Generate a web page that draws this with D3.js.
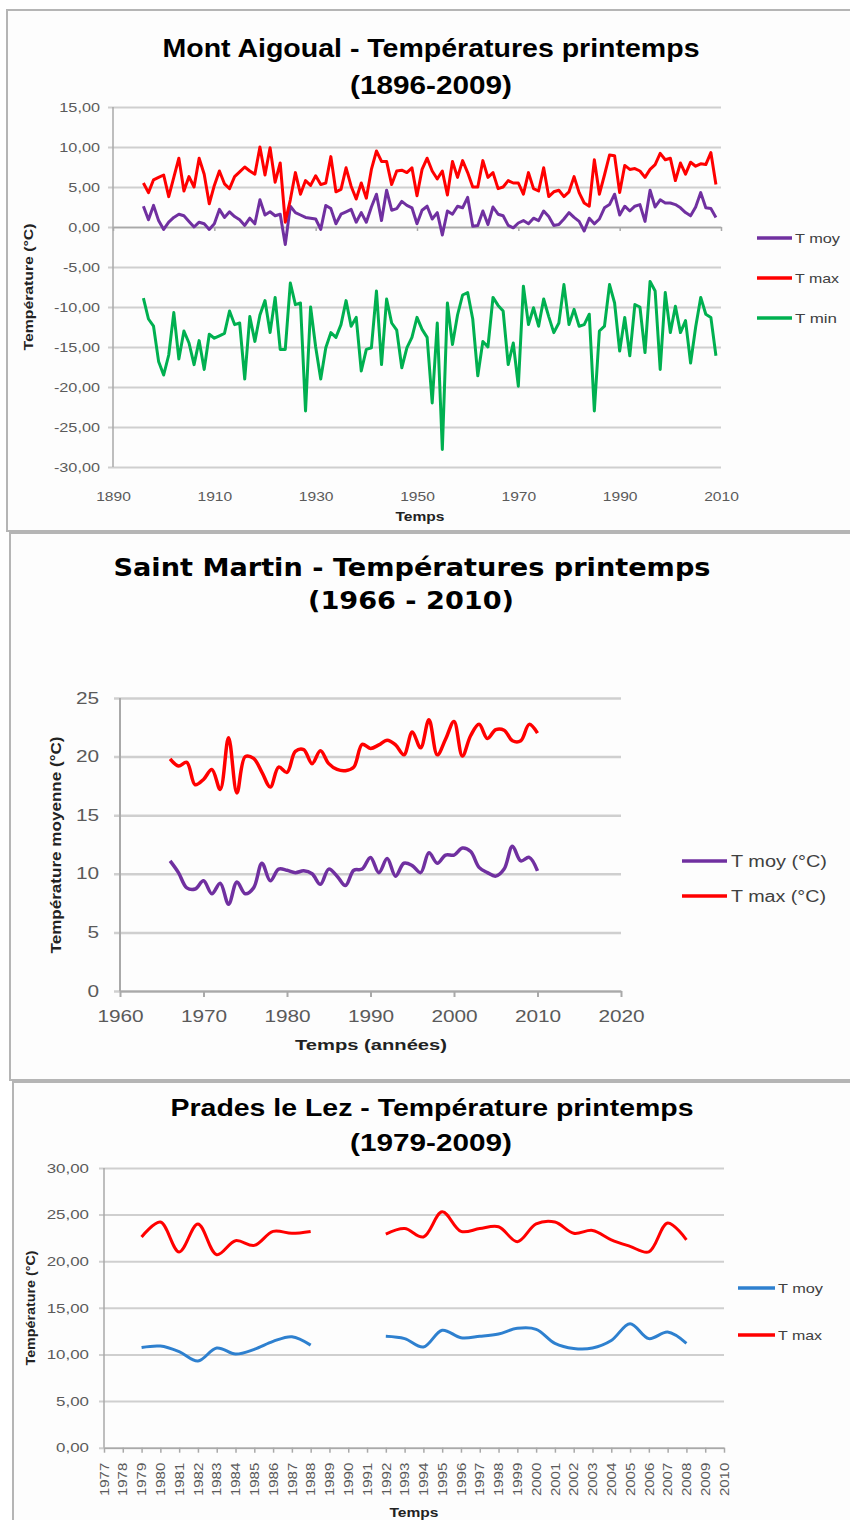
<!DOCTYPE html>
<html>
<head>
<meta charset="utf-8">
<script src="https://cdn.jsdelivr.net/npm/d3@7"></script>
<style>
  body { margin: 0; background: #fff; }
  svg { display: block; }
</style>
</head>
<body>
<svg id="chart" width="850" height="1520"></svg>
<script>
// ---- Mont Aigoual (1896-2009), one value per year ----
const aigoualStart = 1896;
const aigoualTmoy = [2.6, 0.9, 2.7, 0.8, -0.3, 0.6, 1.2, 1.6, 1.4, 0.7, 0.0, 0.6, 0.4, -0.3, 0.4, 2.2, 1.2, 1.9, 1.3, 0.9,
  0.2, 1.1, 0.4, 3.4, 1.5, 1.9, 1.4, 1.6, -2.2, 2.6, 1.8, 1.5, 1.2, 1.1, 1.0, -0.3, 2.7, 2.3, 0.4, 1.6,
  1.9, 2.2, 0.6, 1.8, 0.6, 2.5, 4.1, 0.8, 4.6, 2.1, 2.3, 3.2, 2.7, 2.4, 0.4, 2.1, 2.6, 1.0, 1.8, -1.0,
  2.0, 1.6, 2.6, 2.4, 3.7, 0.1, 0.2, 2.0, 0.3, 2.5, 1.6, 1.4, 0.2, -0.1, 0.5, 0.8, 0.4, 1.1, 0.8, 2.0,
  1.3, 0.2, 0.3, 1.0, 1.8, 1.2, 0.7, -0.5, 1.1, 0.4, 1.0, 2.4, 2.8, 4.1, 1.5, 2.6, 2.0, 2.6, 2.8, 0.7,
  4.6, 2.5, 3.4, 3.0, 3.0, 2.8, 2.4, 1.8, 1.4, 2.5, 4.3, 2.4, 2.3, 1.2];
const aigoualTmax = [5.5, 4.3, 5.9, 6.2, 6.5, 3.8, 6.2, 8.6, 4.5, 6.3, 5.0, 8.6, 6.6, 2.9, 5.2, 7.0, 5.4, 4.8, 6.3, 6.9,
  7.5, 7.0, 6.6, 10.0, 6.5, 9.9, 5.6, 8.0, 0.6, 3.4, 6.8, 4.1, 5.8, 5.2, 6.4, 5.3, 5.5, 8.8, 4.4, 4.7,
  7.4, 5.1, 3.5, 5.5, 3.6, 7.2, 9.5, 8.2, 8.2, 5.3, 7.0, 7.1, 6.8, 7.4, 3.9, 7.2, 8.6, 7.0, 6.0, 7.0,
  4.0, 8.2, 6.2, 8.3, 6.8, 5.0, 5.0, 8.3, 6.2, 6.8, 4.8, 5.0, 5.8, 5.5, 5.5, 4.1, 6.8, 4.8, 4.5, 7.4,
  3.8, 4.4, 4.6, 3.8, 4.4, 6.3, 4.3, 3.0, 2.6, 8.4, 4.1, 6.5, 9.0, 8.9, 4.3, 7.7, 7.2, 7.3, 7.0, 6.2,
  7.2, 7.8, 9.2, 8.4, 8.6, 5.8, 8.0, 6.6, 8.1, 7.6, 7.9, 7.8, 9.3, 5.3];
const aigoualTmin = [-8.9, -11.5, -12.4, -16.8, -18.5, -16.0, -10.7, -16.5, -13.0, -14.5, -17.2, -14.2, -17.8, -13.4, -13.9, -13.6, -13.3, -10.5, -12.2, -12.0,
  -19.0, -11.2, -14.3, -11.0, -9.2, -13.2, -8.8, -15.3, -15.3, -7.0, -9.7, -9.5, -23.0, -10.0, -15.0, -19.0, -15.1, -13.2, -13.8, -12.2,
  -9.2, -12.4, -11.3, -18.0, -15.3, -15.1, -8.0, -17.2, -9.0, -12.0, -12.9, -17.6, -15.1, -13.8, -11.3, -12.8, -13.8, -22.0, -12.0, -27.8,
  -9.5, -14.7, -11.0, -8.5, -8.2, -11.5, -18.6, -14.3, -15.0, -8.8, -9.8, -10.5, -17.2, -14.5, -19.9, -7.4, -12.2, -10.1, -12.4, -9.0,
  -11.2, -13.2, -12.0, -7.2, -12.2, -10.3, -12.4, -12.2, -10.9, -23.0, -13.0, -12.4, -7.2, -9.5, -15.5, -11.3, -16.1, -9.7, -10.0, -15.7,
  -6.8, -8.0, -17.8, -8.2, -13.2, -9.9, -13.2, -11.7, -17.0, -12.5, -8.8, -10.9, -11.3, -16.1];
const aigoualXTicks = [1890, 1910, 1930, 1950, 1970, 1990, 2010];
const aigoualYTicks = [-30, -25, -20, -15, -10, -5, 0, 5, 10, 15];

// ---- Saint Martin (1966-2010) ----
const stMartinStart = 1966;
const stMartinTmoy = [11.1, 10.1, 8.8, 8.7, 9.4, 8.3, 9.2, 7.4, 9.3, 8.3, 8.8, 10.9, 9.4, 10.4, 10.3, 10.1, 10.25, 10.0, 9.1, 10.4,
  9.8, 9.0, 10.3, 10.4, 11.4, 10.1, 11.3, 9.8, 10.9, 10.7, 10.1, 11.8, 10.9, 11.6, 11.6, 12.2, 11.9, 10.55, 10.1, 9.8,
  10.4, 12.35, 11.1, 11.4, 10.25];
const stMartinTmax = [19.8, 19.2, 19.5, 17.6, 18.05, 18.9, 17.2, 21.6, 16.9, 20.0, 19.85, 18.65, 17.4, 19.1, 18.65, 20.45, 20.6, 19.4, 20.5, 19.4,
  18.9, 18.8, 19.1, 21.05, 20.7, 21.0, 21.4, 21.0, 20.15, 22.1, 20.75, 23.15, 20.15, 21.5, 23.0, 20.05, 21.8, 22.75, 21.55, 22.3,
  22.25, 21.35, 21.35, 22.75, 22.0];
const stMartinXTicks = [1960, 1970, 1980, 1990, 2000, 2010, 2020];
const stMartinYTicks = [0, 5, 10, 15, 20, 25];

// ---- Prades le Lez (category axis 1977-2010, gaps = no data) ----
const pradesCategories = ["1977", "1978", "1979", "1980", "1981", "1982", "1983", "1984", "1985", "1986", "1987", "1988",
  "1989", "1990", "1991", "1992", "1993", "1994", "1995", "1996", "1997", "1998", "1999", "2000", "2001", "2002",
  "2003", "2004", "2005", "2006", "2007", "2008", "2009", "2010"];
const pradesTmoy = [null, null, 10.75, 10.9, 10.3, 9.3, 10.7, 10.05, 10.55, 11.4, 11.9, 11.0, null, null, null,
  11.95, 11.7, 10.8, 12.6, 11.8, 11.95, 12.2, 12.8, 12.7, 11.2, 10.65, 10.7, 11.5, 13.3, 11.7, 12.4, 11.2, null, null];
const pradesTmax = [null, null, 22.6, 24.2, 21.0, 24.0, 20.7, 22.2, 21.7, 23.2, 23.0, 23.2, null, null, null,
  22.9, 23.5, 22.6, 25.3, 23.2, 23.5, 23.7, 22.1, 24.0, 24.2, 23.0, 23.3, 22.3, 21.6, 21.0, 24.1, 22.3, null, null];
const pradesYTicks = [0, 5, 10, 15, 20, 25, 30];

// ---- styles ----
const FONT = "'Liberation Sans', Arial, sans-serif";
const GRID = "#cfcfcf";
const AXIS = "#a9a9a9";
const TICKTXT = "#5a5a5a";
const PURPLE = "#7030a0", RED = "#ff0000", GREEN = "#00b050", BLUE = "#2e80cf";

const svg = d3.select("#chart");
const toComma = d => d.toFixed(2).replace(".", ",");

// widen text the way the blurry excel export looks
function stretch(sel, k) {
  sel.each(function() {
    const w = this.getComputedTextLength();
    d3.select(this).attr("textLength", w * k).attr("lengthAdjust", "spacingAndGlyphs");
  });
}

function label(g, txt, x, y, o = {}) {
  const t = g.append("text")
    .attr("x", x).attr("y", y)
    .attr("font-family", o.family || FONT)
    .attr("font-size", o.size || 14)
    .attr("font-weight", o.bold ? "bold" : "normal")
    .attr("fill", o.color || "#000")
    .attr("text-anchor", o.anchor || "middle")
    .text(txt);
  if (o.rotate) t.attr("transform", `rotate(-90,${x},${y})`);
  if (o.len) t.attr("textLength", o.len).attr("lengthAdjust", "spacingAndGlyphs");
  return t;
}

function frame(x, y, w, h) {
  svg.append("rect").attr("x", x).attr("y", y).attr("width", w).attr("height", h)
    .attr("fill", "#fdfdfd").attr("stroke", "#b5b5b5").attr("stroke-width", 2);
}

function legend(g, items, xa, xb, tx, size, col) {
  items.forEach(it => {
    g.append("line").attr("x1", xa).attr("x2", xb).attr("y1", it.y).attr("y2", it.y)
      .attr("stroke", it.color).attr("stroke-width", 3.5);
    label(g, it.name, tx, it.y, { size: size, anchor: "start", color: col, len: it.len })
      .attr("dy", "0.35em");
  });
}

function styleTicks(a, size, k) {
  a.selectAll("text").attr("font-family", FONT).attr("font-size", size).attr("fill", TICKTXT).call(stretch, k);
}

// ================= PANEL 1 : Mont Aigoual =================
frame(7, 10, 870, 521);
const g1 = svg.append("g");
const x1 = d3.scaleLinear().domain([1890, 2010]).range([113, 721]);
const y1 = d3.scaleLinear().domain([-30, 15]).range([467, 107]);

g1.append("g").attr("transform", "translate(108,0)")
  .call(d3.axisLeft(y1).tickValues(aigoualYTicks).tickSizeInner(-613).tickSizeOuter(0).tickPadding(8).tickFormat(toComma))
  .call(a => a.select(".domain").remove())
  .call(a => a.selectAll("line").attr("stroke", GRID).attr("stroke-width", 2))
  .call(a => styleTicks(a, 13, 1.25));

g1.append("line").attr("x1", 113).attr("x2", 113).attr("y1", y1(15)).attr("y2", y1(-30))
  .attr("stroke", AXIS).attr("stroke-width", 1.5);

// horizontal axis crosses at 0, labels sit low
g1.append("g").attr("transform", `translate(0,${y1(0)})`)
  .call(d3.axisBottom(x1).tickValues(aigoualXTicks).tickSizeInner(4).tickSizeOuter(0).tickFormat(""))
  .call(a => a.selectAll("line, path").attr("stroke", AXIS).attr("stroke-width", 1.5));

g1.append("g").attr("transform", "translate(0,492)")
  .call(d3.axisBottom(x1).tickValues(aigoualXTicks).tickSize(0).tickPadding(0).tickFormat(d3.format("d")))
  .call(a => a.select(".domain").remove())
  .call(a => styleTicks(a, 13, 1.2));

const line1 = d3.line().x((d, i) => x1(aigoualStart + i)).y(d => y1(d));
[[aigoualTmin, GREEN], [aigoualTmoy, PURPLE], [aigoualTmax, RED]].forEach(([s, c]) => {
  g1.append("path").attr("d", line1(s)).attr("fill", "none").attr("stroke", c)
    .attr("stroke-width", 3).attr("stroke-linejoin", "round");
});

legend(g1, [
  { name: "T moy", color: PURPLE, y: 238, len: 45 },
  { name: "T max", color: RED, y: 278, len: 44 },
  { name: "T min", color: GREEN, y: 318, len: 42 }
], 757, 792, 795, 13, "#404040");

label(g1, "Mont Aigoual - Températures printemps", 431, 57, { size: 26, bold: true, len: 537 });
label(g1, "(1896-2009)", 431, 94, { size: 26, bold: true, len: 162 });
label(g1, "Température (°C)", 33, 287, { size: 13, bold: true, rotate: true, len: 127, color: "#222" });
label(g1, "Temps", 420, 521, { size: 13, bold: true, len: 49, color: "#222" });

// ================= PANEL 2 : Saint Martin =================
frame(10, 533, 870, 547);
const g2 = svg.append("g");
const x2 = d3.scaleLinear().domain([1960, 2020]).range([120, 621]);
const y2 = d3.scaleLinear().domain([0, 25]).range([991, 698]);

g2.append("g").attr("transform", "translate(114,0)")
  .call(d3.axisLeft(y2).tickValues(stMartinYTicks).tickSizeInner(-507).tickSizeOuter(0).tickPadding(15).tickFormat(d3.format("d")))
  .call(a => a.select(".domain").remove())
  .call(a => a.selectAll("line").attr("stroke", GRID).attr("stroke-width", 2.5))
  .call(a => styleTicks(a, 16, 1.3));

g2.append("line").attr("x1", 120).attr("x2", 120).attr("y1", y2(25)).attr("y2", y2(0))
  .attr("stroke", AXIS).attr("stroke-width", 2);

g2.append("g").attr("transform", `translate(0,${y2(0)})`)
  .call(d3.axisBottom(x2).tickValues(stMartinXTicks).tickSizeInner(6).tickSizeOuter(0).tickPadding(14).tickFormat(d3.format("d")))
  .call(a => a.selectAll("line, path").attr("stroke", AXIS).attr("stroke-width", 2))
  .call(a => styleTicks(a, 16, 1.3));

const line2 = d3.line().x((d, i) => x2(stMartinStart + i)).y(d => y2(d)).curve(d3.curveCatmullRom.alpha(0.5));
[[stMartinTmoy, PURPLE], [stMartinTmax, RED]].forEach(([s, c]) => {
  g2.append("path").attr("d", line2(s)).attr("fill", "none").attr("stroke", c)
    .attr("stroke-width", 3.5).attr("stroke-linejoin", "round");
});

legend(g2, [
  { name: "T moy (°C)", color: PURPLE, y: 861, len: 96 },
  { name: "T max (°C)", color: RED, y: 896, len: 95 }
], 682, 727, 731, 16, "#404040");

label(g2, "Saint Martin - Températures printemps", 412, 576,
  { size: 24, bold: true, len: 597, family: "'DejaVu Sans', Verdana, sans-serif" });
label(g2, "(1966 - 2010)", 411, 609,
  { size: 24, bold: true, len: 206, family: "'DejaVu Sans', Verdana, sans-serif" });
label(g2, "Température moyenne (°C)", 61, 845, { size: 15, bold: true, rotate: true, len: 217, color: "#222" });
label(g2, "Temps (années)", 371, 1050, { size: 15, bold: true, len: 152, color: "#222" });

// ================= PANEL 3 : Prades le Lez =================
frame(13, 1082, 870, 470);
const g3 = svg.append("g");
const x3 = d3.scalePoint().domain(pradesCategories).range([104, 724]);
const y3 = d3.scaleLinear().domain([0, 30]).range([1447.7, 1168]);

g3.append("g").attr("transform", "translate(99,0)")
  .call(d3.axisLeft(y3).tickValues(pradesYTicks).tickSizeInner(-625).tickSizeOuter(0).tickPadding(10).tickFormat(toComma))
  .call(a => a.select(".domain").remove())
  .call(a => a.selectAll("line").attr("stroke", GRID).attr("stroke-width", 2))
  .call(a => styleTicks(a, 13, 1.3));

g3.append("line").attr("x1", 104).attr("x2", 104).attr("y1", y3(30)).attr("y2", y3(0))
  .attr("stroke", AXIS).attr("stroke-width", 1.5);

g3.append("g").attr("transform", `translate(0,${y3(0)})`)
  .call(d3.axisBottom(x3).tickSizeInner(5).tickSizeOuter(0))
  .call(a => a.selectAll("line, path").attr("stroke", AXIS).attr("stroke-width", 1.5))
  .call(a => a.selectAll("text")
    .attr("transform", "rotate(-90)")
    .attr("text-anchor", "end")
    .attr("x", -15).attr("y", 0).attr("dy", "0.35em"))
  .call(a => styleTicks(a, 12, 1.25));

const line3 = d3.line()
  .defined(d => d != null)
  .x((d, i) => x3(pradesCategories[i]))
  .y(d => y3(d))
  .curve(d3.curveCatmullRom.alpha(0.5));
[[pradesTmoy, BLUE], [pradesTmax, RED]].forEach(([s, c]) => {
  g3.append("path").attr("d", line3(s)).attr("fill", "none").attr("stroke", c)
    .attr("stroke-width", 3).attr("stroke-linejoin", "round");
});

legend(g3, [
  { name: "T moy", color: BLUE, y: 1288, len: 45 },
  { name: "T max", color: RED, y: 1335, len: 44 }
], 738, 775, 778, 13, "#404040");

label(g3, "Prades le Lez - Température printemps", 432, 1116, { size: 23, bold: true, len: 523 });
label(g3, "(1979-2009)", 431, 1151, { size: 23, bold: true, len: 162 });
label(g3, "Température (°C)", 35, 1308, { size: 13, bold: true, rotate: true, len: 115, color: "#222" });
label(g3, "Temps", 414, 1517, { size: 13, bold: true, len: 49, color: "#222" });
</script>
</body>
</html>
